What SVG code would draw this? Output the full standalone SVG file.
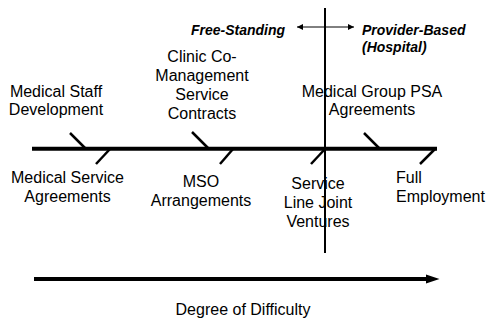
<svg xmlns="http://www.w3.org/2000/svg" width="488" height="320" viewBox="0 0 488 320">
<style>
text{font-family:"Liberation Sans",Arial,sans-serif;font-size:16px;fill:#000}
.c{text-anchor:middle}
.h{font-size:14px;font-weight:bold;font-style:italic}
.tick{stroke:#000;stroke-width:2.5;fill:none}
</style>
<defs>
<marker id="ah" viewBox="0 0 10 10" refX="10" refY="5" markerWidth="6" markerHeight="6" orient="auto-start-reverse" markerUnits="userSpaceOnUse">
<path d="M0,0 L10,5 L0,10 z" fill="#000"/>
</marker>
</defs>
<rect width="488" height="320" fill="#fff"/>
<g id="connectors">
<line x1="32" y1="148.7" x2="437" y2="148.7" stroke="#000" stroke-width="4"/>
<line x1="325" y1="8" x2="325" y2="253" stroke="#000" stroke-width="2"/>
<line x1="297" y1="27" x2="354" y2="27" stroke="#000" stroke-width="1" marker-start="url(#ah)" marker-end="url(#ah)"/>
<line class="tick" x1="70" y1="133" x2="85" y2="148"/>
<line class="tick" x1="192" y1="132" x2="208" y2="148"/>
<line class="tick" x1="364" y1="133" x2="379" y2="148"/>
<line class="tick" x1="110" y1="149" x2="96" y2="164"/>
<line class="tick" x1="233" y1="149" x2="220" y2="164"/>
<line class="tick" x1="325" y1="149" x2="311" y2="164"/>
<line class="tick" x1="435" y1="149" x2="420" y2="164"/>
<line x1="34" y1="279" x2="428" y2="279" stroke="#000" stroke-width="4"/>
<polygon points="426,274.5 439.5,279 426,283.5" fill="#000"/>
</g>
<g id="free-standing"><text class="h" x="191" y="35">Free-Standing</text></g>
<g id="provider-based"><text class="h" x="362" y="35">Provider-Based</text><text class="h" x="362" y="52">(Hospital)</text></g>
<g id="medical-staff"><text class="c" x="56" y="97">Medical Staff</text><text class="c" x="56" y="115">Development</text></g>
<g id="clinic"><text class="c" x="202" y="62">Clinic Co-</text><text class="c" x="202" y="81">Management</text><text class="c" x="202" y="100">Service</text><text class="c" x="202" y="119">Contracts</text></g>
<g id="medical-group"><text class="c" x="372" y="97">Medical Group PSA</text><text class="c" x="372" y="115">Agreements</text></g>
<g id="medical-service"><text class="c" x="67.5" y="183">Medical Service</text><text class="c" x="67.5" y="202">Agreements</text></g>
<g id="mso"><text class="c" x="201" y="187">MSO</text><text class="c" x="201" y="206">Arrangements</text></g>
<g id="service-line"><text class="c" x="318" y="189">Service</text><text class="c" x="318" y="208">Line Joint</text><text class="c" x="318" y="227">Ventures</text></g>
<g id="full-employment"><text x="396" y="183">Full</text><text x="396" y="202">Employment</text></g>
<g id="difficulty"><text class="c" x="243" y="315">Degree of Difficulty</text></g>
</svg>
